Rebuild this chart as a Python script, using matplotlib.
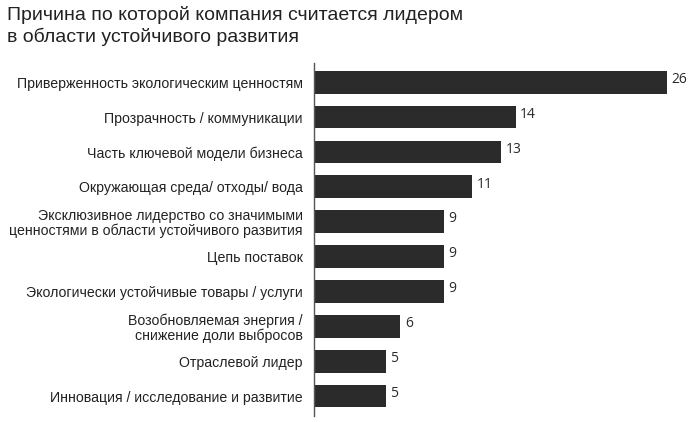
import matplotlib.pyplot as plt

labels = [
    "Приверженность экологическим ценностям",
    "Прозрачность / коммуникации",
    "Часть ключевой модели бизнеса",
    "Окружающая среда/ отходы/ вода",
    "Эксклюзивное лидерство со значимыми\nценностями в области устойчивого развития",
    "Цепь поставок",
    "Экологически устойчивые товары / услуги",
    "Возобновляемая энергия /\nснижение доли выбросов",
    "Отраслевой лидер",
    "Инновация / исследование и развитие",
]
values = [26, 14, 13, 11, 9, 9, 9, 6, 5, 5]
title = "Причина по которой компания считается лидером\nв области устойчивого развития"

W, H = 699, 422
fig = plt.figure(figsize=(W / 100, H / 100), dpi=100)
# axes in pixels: left 314, right 667, top 63, bottom 416
ax = fig.add_axes([314 / W, 1 - 416 / H, (667 - 314) / W, (416 - 63) / H])

n = len(values)
ypos = list(range(n))
xmax = 24.5  # the longest bar is cut at the frame in the original
ax.barh(ypos, values, height=0.65, color="#2b2b2b")
ax.set_xlim(0, xmax)
ax.set_ylim(n - 0.5 + 0.07, -0.5 - 0.05)

for y, v in zip(ypos, values):
    ax.text(min(v, xmax) + 0.3, y - 0.08, str(v), va="center", ha="left",
            fontsize=10, family="Open Sans", color="#2b2b2b", clip_on=False)

ax.set_yticks(ypos)
ax.set_yticklabels(labels, fontsize=10.2, family="Liberation Sans", color="#222222",
                   linespacing=1.05)
ax.tick_params(axis="y", length=0, pad=8)
ax.set_xticks([])
for s in ["top", "right", "bottom"]:
    ax.spines[s].set_visible(False)
ax.spines["left"].set_color("#555555")
ax.spines["left"].set_linewidth(1)

fig.text(7 / W, 1 - 6 / H, title, ha="left", va="top", fontsize=14,
         family="Liberation Sans", color="#222222", linespacing=1.25)

fig.savefig("out.png", dpi=100)
